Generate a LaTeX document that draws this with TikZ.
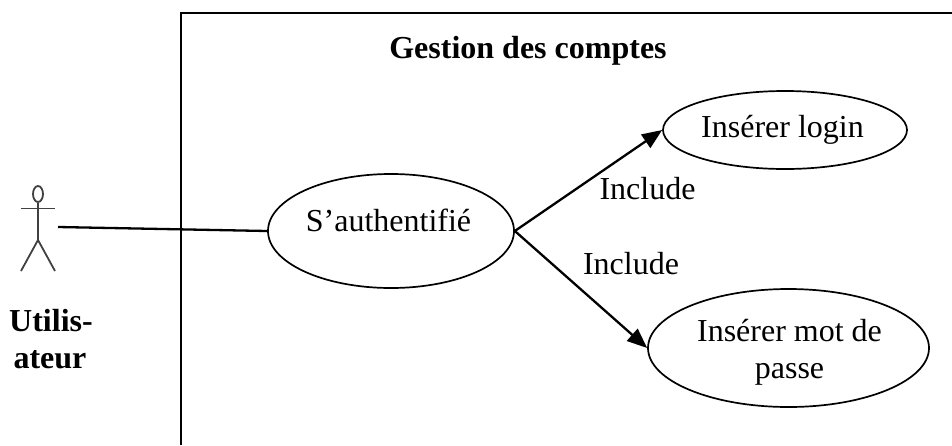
\documentclass[tikz,border=0pt]{standalone}
\usepackage{fontspec}
\setmainfont{Liberation Serif}
\usetikzlibrary{shapes.geometric,arrows.meta}
\tikzset{
  usecase/.style={draw=black,line width=1.7pt,ellipse,inner sep=0pt},
  lbl/.style={inner sep=0pt,align=center,font=\fontsize{32}{37}\selectfont},
  boldlbl/.style={inner sep=0pt,align=center,font=\fontsize{32}{37}\selectfont\bfseries},
  frameline/.style={draw=black,line width=2.4pt},
  conn/.style={draw=black,line width=2.3pt},
  arr/.style={conn,-{Triangle[length=20pt,width=16pt]}},
  stick/.style={draw=black!75,line width=1.8pt},
}
\begin{document}
\begin{tikzpicture}[x=1pt,y=-1pt]
\useasboundingbox (0,0) rectangle (952,445);
\coordinate (ftop) at (952,13);
\coordinate (fcorner) at (181,13);
\coordinate (fbot) at (181,445);
\draw[frameline] (ftop) -- (fcorner) -- (fbot);
\node[boldlbl,anchor=base] (title) at (528,58) {Gestion des comptes};
\node[usecase,minimum width=246pt,minimum height=114pt] (auth) at (391,231) {};
\node[usecase,minimum width=244pt,minimum height=78pt] (login) at (785,130) {};
\node[usecase,minimum width=281pt,minimum height=118pt] (mdp) at (788.5,348) {};
\node[lbl,anchor=base] (authtext) at (388.5,231) {S’authentifié};
\node[lbl,anchor=base] (logintext) at (782.5,137) {Insérer login};
\node[lbl,anchor=base] (mdptext1) at (789.5,341) {Insérer mot de};
\node[lbl,anchor=base] (mdptext2) at (789.5,378) {passe};
\node[lbl,anchor=base] (inc1) at (647.5,199) {Include};
\node[lbl,anchor=base] (inc2) at (631,274) {Include};
\node[boldlbl,anchor=base] (actorname1) at (51,331) {Utilis-};
\node[boldlbl,anchor=base] (actorname2) at (50,368) {ateur};
\node[draw=black!75,line width=1.8pt,ellipse,inner sep=0pt,minimum width=10pt,minimum height=16pt] (head) at (38,194) {};
\coordinate (hip) at (38,240);
\coordinate (armL) at (21,208.5);
\coordinate (armR) at (55,208.5);
\coordinate (footL) at (21,271);
\coordinate (footR) at (55,271);
\draw[stick] (head.south) -- (hip);
\draw[stick] (armL) -- (armR);
\draw[stick] (footL) -- (hip) -- (footR);
\coordinate (hand) at (58,227);
\draw[conn] (hand) -- (auth.west);
\draw[arr] (auth.east) -- (login.west);
\draw[arr] (auth.east) -- (mdp.west);
\end{tikzpicture}
\end{document}
